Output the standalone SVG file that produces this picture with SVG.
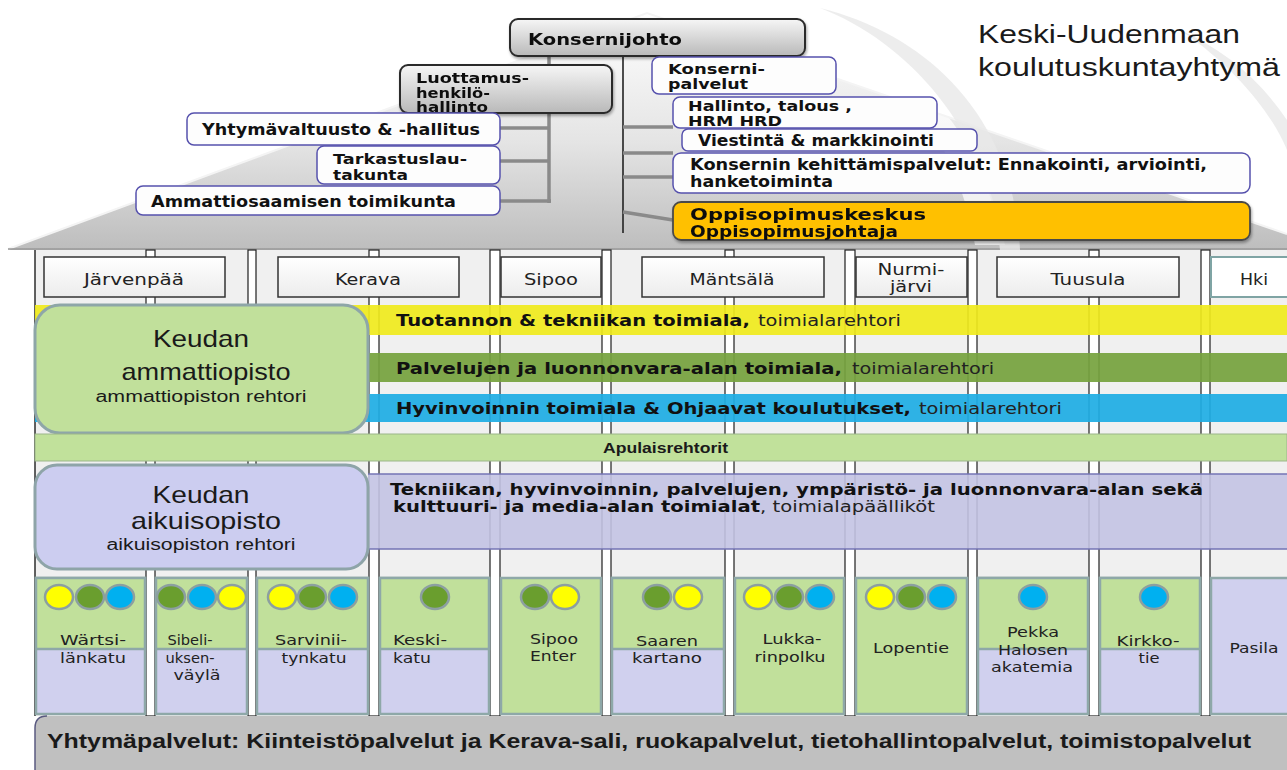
<svg xmlns="http://www.w3.org/2000/svg" width="1287" height="770" viewBox="0 0 1287 770">
<defs>
  <linearGradient id="roofG" x1="0" y1="0" x2="0" y2="1">
    <stop offset="0" stop-color="#ffffff"/>
    <stop offset="0.55" stop-color="#e4e4e4"/>
    <stop offset="1" stop-color="#bdbdbd"/>
  </linearGradient>
  <linearGradient id="grayBox" x1="0" y1="0" x2="0" y2="1">
    <stop offset="0" stop-color="#f6f6f6"/>
    <stop offset="1" stop-color="#b9b9b9"/>
  </linearGradient>
  <linearGradient id="cityG" x1="0" y1="0" x2="0" y2="1">
    <stop offset="0" stop-color="#ffffff"/>
    <stop offset="1" stop-color="#ececec"/>
  </linearGradient>
  <filter id="sh" x="-5%" y="-20%" width="110%" height="150%">
    <feGaussianBlur in="SourceAlpha" stdDeviation="1.5"/>
    <feOffset dx="1" dy="2" result="o"/>
    <feComponentTransfer><feFuncA type="linear" slope="0.35"/></feComponentTransfer>
    <feMerge><feMergeNode/><feMergeNode in="SourceGraphic"/></feMerge>
  </filter>
</defs>
<style>
  .b{font-family:"DejaVu Sans",Verdana,sans-serif;font-weight:bold;font-size:15px;fill:#111}
  .bs{font-family:"DejaVu Sans",Verdana,sans-serif;font-weight:bold;font-size:13.5px;fill:#111}
  .r{font-family:"DejaVu Sans",Verdana,sans-serif;font-size:15px;fill:#222}
  .a{font-family:"Liberation Sans",Arial,sans-serif;fill:#1a1a1a}
  .ct{font-family:"DejaVu Sans",Verdana,sans-serif;font-size:14px;fill:#222;text-anchor:middle}
  .cs{font-family:"DejaVu Sans",Verdana,sans-serif;font-size:14px;fill:#222;text-anchor:start}
  .cy{font-family:"DejaVu Sans",Verdana,sans-serif;font-size:15px;fill:#222;text-anchor:middle}
  .wbox{fill:#fdfdfd;stroke:#5651ad;stroke-width:1.5}
  .gbox{fill:url(#grayBox);stroke:#2a2a2a;stroke-width:2}
  .city{fill:url(#cityG);stroke:#333;stroke-width:1.5}
  .col{fill:#ffffff;stroke:#1e1e1e;stroke-width:1.2}
  .cg{fill:#c1e09b;stroke:#8ea8a8;stroke-width:2.5}
  .cl{fill:#d0d0ee;stroke:#8ea8a8;stroke-width:2.5}
  .dot{stroke:#8c9fa0;stroke-width:2.5}
  .y{fill:#ffff00}.g{fill:#6a9e2e}.bl{fill:#00b0f0}
  .gl{stroke:#8a8a8a;stroke-width:3.5;fill:none}
</style>

<!-- background and roof -->
<rect width="1287" height="770" fill="#ffffff"/>
<g id="roof">
  <polygon points="8,249 647,13 1287,234 1287,250 8,250" fill="url(#roofG)"/>
  <path d="M810,20 C900,60 960,150 975,245 L1005,245 C985,140 920,60 810,20 Z" fill="#ffffff" opacity="0.7"/>
  <path d="M1110,60 C1200,90 1260,150 1287,200 L1287,170 C1250,120 1190,80 1110,60 Z" fill="#ffffff" opacity="0.6"/>
  <path d="M8,249 L647,13 L1287,234" fill="none" stroke="#f4f4f4" stroke-width="2"/>
  <line x1="8" y1="249" x2="1287" y2="249" stroke="#9a9a9a" stroke-width="1.5"/>
</g>
<g id="watermark" fill="#e9e9e9" opacity="0.8">
  <path d="M820,8 C905,40 990,130 1000,250 L1020,250 C1015,120 930,35 820,8 Z"/>
  <path d="M1180,30 C1240,70 1275,120 1287,150 L1287,120 C1260,80 1225,50 1180,30 Z"/>
</g>

<!-- title -->
<g id="title">
  <text class="a" x="978" y="43" font-size="25" textLength="262" lengthAdjust="spacingAndGlyphs">Keski-Uudenmaan</text>
  <text class="a" x="978" y="76" font-size="25" textLength="302" lengthAdjust="spacingAndGlyphs">koulutuskuntayhtymä</text>
</g>

<!-- connectors -->
<g id="connectors">
  <line class="gl" x1="549" y1="56" x2="549" y2="203"/>
  <line class="gl" x1="500" y1="128" x2="549" y2="128"/>
  <line class="gl" x1="500" y1="161" x2="549" y2="161"/>
  <line class="gl" x1="500" y1="201" x2="551" y2="201"/>
  <line x1="623" y1="56" x2="623" y2="233" stroke="#222" stroke-width="1.6"/>
  <line class="gl" x1="623" y1="127" x2="673" y2="127"/>
  <line class="gl" x1="623" y1="153" x2="673" y2="153"/>
  <line class="gl" x1="623" y1="177" x2="673" y2="177"/>
  <line class="gl" x1="623" y1="212" x2="673" y2="220"/>
</g>

<!-- top nodes -->
<g id="konsernijohto" filter="url(#sh)">
  <rect class="gbox" x="510" y="19" width="295" height="37" rx="8"/>
  <text class="b" x="528" y="45" font-size="16" textLength="154" lengthAdjust="spacingAndGlyphs">Konsernijohto</text>
</g>
<g id="luottamus" filter="url(#sh)">
  <rect class="gbox" x="400" y="65" width="212" height="48" rx="8"/>
  <text class="bs" x="416" y="83" textLength="113" lengthAdjust="spacingAndGlyphs">Luottamus-</text>
  <text class="bs" x="416" y="98" textLength="74" lengthAdjust="spacingAndGlyphs">henkilö-</text>
  <text class="bs" x="416" y="112" textLength="72" lengthAdjust="spacingAndGlyphs">hallinto</text>
</g>
<g id="yhtymavaltuusto">
  <rect class="wbox" x="187" y="113" width="313" height="32" rx="7"/>
  <text class="b" x="202" y="135" textLength="278" lengthAdjust="spacingAndGlyphs">Yhtymävaltuusto &amp; -hallitus</text>
</g>
<g id="tarkastus">
  <rect class="wbox" x="317" y="146" width="183" height="38" rx="7"/>
  <text class="bs" x="333" y="164" textLength="134" lengthAdjust="spacingAndGlyphs">Tarkastuslau-</text>
  <text class="bs" x="333" y="180" textLength="75" lengthAdjust="spacingAndGlyphs">takunta</text>
</g>
<g id="ammattiosaamisen">
  <rect class="wbox" x="136" y="186" width="364" height="29" rx="7"/>
  <text class="b" x="151" y="207" textLength="305" lengthAdjust="spacingAndGlyphs">Ammattiosaamisen toimikunta</text>
</g>
<g id="konsernipalvelut">
  <rect class="wbox" x="652" y="57" width="184" height="37" rx="7"/>
  <text class="bs" x="668" y="74" textLength="97" lengthAdjust="spacingAndGlyphs">Konserni-</text>
  <text class="bs" x="668" y="89" textLength="80" lengthAdjust="spacingAndGlyphs">palvelut</text>
</g>
<g id="hallinto">
  <rect class="wbox" x="673" y="97" width="264" height="31" rx="7"/>
  <text class="bs" x="688" y="111" textLength="164" lengthAdjust="spacingAndGlyphs">Hallinto, talous ,</text>
  <text class="bs" x="688" y="126" textLength="94" lengthAdjust="spacingAndGlyphs">HRM HRD</text>
</g>
<g id="viestinta">
  <rect class="wbox" x="682" y="129" width="295" height="22" rx="6"/>
  <text class="b" x="698" y="146" textLength="236" lengthAdjust="spacingAndGlyphs">Viestintä &amp; markkinointi</text>
</g>
<g id="kehittamispalvelut">
  <rect class="wbox" x="673" y="153" width="577" height="40" rx="8"/>
  <text class="b" x="690" y="170" textLength="517" lengthAdjust="spacingAndGlyphs">Konsernin kehittämispalvelut: Ennakointi, arviointi,</text>
  <text class="b" x="690" y="187" textLength="143" lengthAdjust="spacingAndGlyphs">hanketoiminta</text>
</g>
<g id="oppisopimus" filter="url(#sh)">
  <rect x="673" y="202" width="577" height="38" rx="8" fill="#ffc000" stroke="#4a4a4a" stroke-width="1.8"/>
  <text class="b" x="690" y="220" font-size="18" textLength="236" lengthAdjust="spacingAndGlyphs">Oppisopimuskeskus</text>
  <text class="b" x="690" y="237" textLength="208" lengthAdjust="spacingAndGlyphs">Oppisopimusjohtaja</text>
</g>

<!-- building body -->
<g id="building">
  <rect x="35" y="250" width="1252" height="466" fill="#f0f0f0"/>
  <line x1="35" y1="250" x2="35" y2="716" stroke="#1e1e1e" stroke-width="1.4"/>
  <rect class="col" x="146" y="250" width="9" height="466"/>
  <rect class="col" x="248" y="250" width="8" height="466"/>
  <rect class="col" x="369" y="250" width="10" height="466"/>
  <rect class="col" x="490" y="250" width="10" height="466"/>
  <rect class="col" x="602" y="250" width="9" height="466"/>
  <rect class="col" x="725" y="250" width="9" height="466"/>
  <rect class="col" x="845" y="250" width="10" height="466"/>
  <rect class="col" x="968" y="250" width="9" height="466"/>
  <rect class="col" x="1089" y="250" width="10" height="466"/>
  <rect class="col" x="1201" y="250" width="9" height="466"/>
</g>

<!-- cities -->
<g id="jarvenpaa"><rect class="city" x="44" y="257" width="181" height="40"/><text class="cy" x="134" y="285" textLength="100" lengthAdjust="spacingAndGlyphs">Järvenpää</text></g>
<g id="kerava"><rect class="city" x="278" y="257" width="181" height="40"/><text class="cy" x="368" y="285" textLength="66" lengthAdjust="spacingAndGlyphs">Kerava</text></g>
<g id="sipoo"><rect class="city" x="501" y="257" width="100" height="40"/><text class="cy" x="551" y="285" textLength="54" lengthAdjust="spacingAndGlyphs">Sipoo</text></g>
<g id="mantsala"><rect class="city" x="642" y="257" width="182" height="40"/><text class="cy" x="732" y="285" textLength="85" lengthAdjust="spacingAndGlyphs">Mäntsälä</text></g>
<g id="nurmijarvi"><rect class="city" x="856" y="257" width="111" height="40"/><text class="cy" x="911" y="275" textLength="67" lengthAdjust="spacingAndGlyphs">Nurmi-</text><text class="cy" x="911" y="292" textLength="42" lengthAdjust="spacingAndGlyphs">järvi</text></g>
<g id="tuusula"><rect class="city" x="997" y="257" width="182" height="40"/><text class="cy" x="1088" y="285" textLength="75" lengthAdjust="spacingAndGlyphs">Tuusula</text></g>
<g id="hki"><rect x="1211" y="257" width="80" height="40" fill="#ffffff" stroke="#7fa4a4" stroke-width="2"/><text class="cy" x="1254" y="285" textLength="28" lengthAdjust="spacingAndGlyphs">Hki</text></g>

<!-- bands -->
<g id="tuotannon">
  <rect x="35" y="305" width="1252" height="30" fill="#f0ea1c" opacity="0.92"/>
  <text class="b" x="396" y="326" textLength="354" lengthAdjust="spacingAndGlyphs">Tuotannon &amp; tekniikan toimiala,</text>
  <text class="r" x="758" y="326" textLength="143" lengthAdjust="spacingAndGlyphs">toimialarehtori</text>
</g>
<g id="palvelujen">
  <rect x="35" y="353" width="1252" height="29" fill="#76a23e" opacity="0.93"/>
  <text class="b" x="396" y="374" textLength="446" lengthAdjust="spacingAndGlyphs">Palvelujen ja luonnonvara-alan toimiala,</text>
  <text class="r" x="852" y="374" textLength="142" lengthAdjust="spacingAndGlyphs">toimialarehtori</text>
</g>
<g id="hyvinvoinnin">
  <rect x="35" y="394" width="1252" height="28" fill="#1fade4" opacity="0.93"/>
  <text class="b" x="396" y="414" textLength="515" lengthAdjust="spacingAndGlyphs">Hyvinvoinnin toimiala &amp; Ohjaavat koulutukset,</text>
  <text class="r" x="919" y="414" textLength="143" lengthAdjust="spacingAndGlyphs">toimialarehtori</text>
</g>
<g id="ammattiopisto">
  <rect x="35" y="305" width="333" height="128" rx="25" fill="#c1e09b" stroke="#8ea6a8" stroke-width="3"/>
  <text class="a" x="201" y="347" font-size="24" text-anchor="middle" textLength="96" lengthAdjust="spacingAndGlyphs">Keudan</text>
  <text class="a" x="206" y="380" font-size="24" text-anchor="middle" textLength="169" lengthAdjust="spacingAndGlyphs">ammattiopisto</text>
  <text class="a" x="201" y="402" font-size="16" text-anchor="middle" textLength="211" lengthAdjust="spacingAndGlyphs">ammattiopiston rehtori</text>
</g>
<g id="apulaisrehtorit">
  <rect x="35" y="434" width="1252" height="27" fill="#c1e19b" stroke="#9bb58a" stroke-width="1"/>
  <text class="a" x="603" y="453" font-size="14" font-weight="bold" textLength="125" lengthAdjust="spacingAndGlyphs">Apulaisrehtorit</text>
</g>
<g id="aikuis-toimialat">
  <rect x="368" y="474" width="919" height="75" fill="#c3c3e3" opacity="0.9"/>
  <line x1="368" y1="474" x2="1287" y2="474" stroke="#7474b4" stroke-width="1.5"/>
  <line x1="368" y1="549" x2="1287" y2="549" stroke="#7474b4" stroke-width="1.5"/>
  <text class="b" x="390" y="495" textLength="813" lengthAdjust="spacingAndGlyphs">Tekniikan, hyvinvoinnin, palvelujen, ympäristö- ja luonnonvara-alan sekä</text>
  <text class="b" x="393" y="512" textLength="367" lengthAdjust="spacingAndGlyphs">kulttuuri- ja media-alan toimialat</text>
  <text class="r" x="760" y="512" textLength="175" lengthAdjust="spacingAndGlyphs">, toimialapäälliköt</text>
</g>
<g id="aikuisopisto">
  <rect x="35" y="465" width="333" height="104" rx="22" fill="#cccdf0" stroke="#8ea4a8" stroke-width="3"/>
  <text class="a" x="201" y="503" font-size="24" text-anchor="middle" textLength="97" lengthAdjust="spacingAndGlyphs">Keudan</text>
  <text class="a" x="206" y="529" font-size="24" text-anchor="middle" textLength="150" lengthAdjust="spacingAndGlyphs">aikuisopisto</text>
  <text class="a" x="201" y="550" font-size="16" text-anchor="middle" textLength="189" lengthAdjust="spacingAndGlyphs">aikuisopiston rehtori</text>
</g>

<!-- campus cards -->
<g id="wartsilankatu">
  <rect class="cl" x="36" y="578" width="109" height="136"/><rect class="cg" x="36" y="578" width="109" height="71"/>
  <ellipse class="dot y" cx="59" cy="597" rx="14" ry="12"/><ellipse class="dot g" cx="90" cy="597" rx="14" ry="12"/><ellipse class="dot bl" cx="120" cy="597" rx="14" ry="12"/>
  <text class="ct" x="93" y="645" textLength="66" lengthAdjust="spacingAndGlyphs">Wärtsi-</text>
  <text class="ct" x="93" y="663" textLength="66" lengthAdjust="spacingAndGlyphs">länkatu</text>
</g>
<g id="sibeliuksenvayla">
  <rect class="cl" x="156" y="578" width="91" height="136"/><rect class="cg" x="156" y="578" width="91" height="71"/>
  <ellipse class="dot g" cx="171" cy="597" rx="14" ry="12"/><ellipse class="dot bl" cx="202" cy="597" rx="14" ry="12"/><ellipse class="dot y" cx="232" cy="597" rx="14" ry="12"/>
  <text class="ct" x="190" y="645" textLength="45" lengthAdjust="spacingAndGlyphs">Sibeli-</text>
  <text class="ct" x="190" y="663" textLength="49" lengthAdjust="spacingAndGlyphs">uksen-</text>
  <text class="ct" x="197" y="680" textLength="47" lengthAdjust="spacingAndGlyphs">väylä</text>
</g>
<g id="sarviniitynkatu">
  <rect class="cl" x="257" y="578" width="111" height="136"/><rect class="cg" x="257" y="578" width="111" height="71"/>
  <ellipse class="dot y" cx="282" cy="597" rx="14" ry="12"/><ellipse class="dot g" cx="312" cy="597" rx="14" ry="12"/><ellipse class="dot bl" cx="343" cy="597" rx="14" ry="12"/>
  <text class="ct" x="311" y="645" textLength="72" lengthAdjust="spacingAndGlyphs">Sarvinii-</text>
  <text class="ct" x="314" y="663" textLength="65" lengthAdjust="spacingAndGlyphs">tynkatu</text>
</g>
<g id="keskikatu">
  <rect class="cl" x="380" y="578" width="109" height="136"/><rect class="cg" x="380" y="578" width="109" height="71"/>
  <ellipse class="dot g" cx="435" cy="597" rx="14" ry="12"/>
  <text class="cs" x="393" y="645" textLength="54" lengthAdjust="spacingAndGlyphs">Keski-</text>
  <text class="cs" x="393" y="663" textLength="38" lengthAdjust="spacingAndGlyphs">katu</text>
</g>
<g id="sipoo-enter">
  <rect class="cg" x="501" y="578" width="100" height="136"/>
  <ellipse class="dot g" cx="535" cy="597" rx="14" ry="12"/><ellipse class="dot y" cx="565" cy="597" rx="14" ry="12"/>
  <text class="ct" x="554" y="644" textLength="48" lengthAdjust="spacingAndGlyphs">Sipoo</text>
  <text class="ct" x="553" y="661" textLength="46" lengthAdjust="spacingAndGlyphs">Enter</text>
</g>
<g id="saaren-kartano">
  <rect class="cl" x="612" y="578" width="112" height="136"/><rect class="cg" x="612" y="578" width="112" height="71"/>
  <ellipse class="dot g" cx="657" cy="597" rx="14" ry="12"/><ellipse class="dot y" cx="688" cy="597" rx="14" ry="12"/>
  <text class="ct" x="667" y="646" textLength="62" lengthAdjust="spacingAndGlyphs">Saaren</text>
  <text class="ct" x="667" y="663" textLength="70" lengthAdjust="spacingAndGlyphs">kartano</text>
</g>
<g id="lukkarinpolku">
  <rect class="cg" x="735" y="578" width="109" height="136"/>
  <ellipse class="dot y" cx="758" cy="597" rx="14" ry="12"/><ellipse class="dot g" cx="789" cy="597" rx="14" ry="12"/><ellipse class="dot bl" cx="820" cy="597" rx="14" ry="12"/>
  <text class="ct" x="792" y="644" textLength="59" lengthAdjust="spacingAndGlyphs">Lukka-</text>
  <text class="ct" x="790" y="662" textLength="71" lengthAdjust="spacingAndGlyphs">rinpolku</text>
</g>
<g id="lopentie">
  <rect class="cg" x="856" y="578" width="111" height="136"/>
  <ellipse class="dot y" cx="880" cy="597" rx="14" ry="12"/><ellipse class="dot g" cx="911" cy="597" rx="14" ry="12"/><ellipse class="dot bl" cx="942" cy="597" rx="14" ry="12"/>
  <text class="ct" x="911" y="653" textLength="76" lengthAdjust="spacingAndGlyphs">Lopentie</text>
</g>
<g id="pekka-halosen-akatemia">
  <rect class="cl" x="978" y="578" width="110" height="136"/><rect class="cg" x="978" y="578" width="110" height="71"/>
  <ellipse class="dot bl" cx="1033" cy="597" rx="14" ry="12"/>
  <text class="ct" x="1033" y="637" textLength="52" lengthAdjust="spacingAndGlyphs">Pekka</text>
  <text class="ct" x="1033" y="655" textLength="70" lengthAdjust="spacingAndGlyphs">Halosen</text>
  <text class="ct" x="1032" y="672" textLength="82" lengthAdjust="spacingAndGlyphs">akatemia</text>
</g>
<g id="kirkkotie">
  <rect class="cl" x="1100" y="578" width="100" height="136"/><rect class="cg" x="1100" y="578" width="100" height="71"/>
  <ellipse class="dot bl" cx="1154" cy="597" rx="14" ry="12"/>
  <text class="ct" x="1148" y="646" textLength="63" lengthAdjust="spacingAndGlyphs">Kirkko-</text>
  <text class="ct" x="1149" y="663" textLength="21" lengthAdjust="spacingAndGlyphs">tie</text>
</g>
<g id="pasila">
  <rect class="cl" x="1211" y="578" width="80" height="136"/>
  <text class="ct" x="1254" y="653" textLength="49" lengthAdjust="spacingAndGlyphs">Pasila</text>
</g>

<!-- services bar -->
<g id="yhtymapalvelut">
  <path d="M35,728 Q35,716 47,716 H1287 V770 H35 Z" fill="#c0c0c0"/>
  <path d="M35,770 V728 Q35,716 47,716" fill="none" stroke="#5a5a80" stroke-width="1.5"/>
  <text class="a" x="47" y="748" font-size="20" font-weight="bold" textLength="1204" lengthAdjust="spacingAndGlyphs">Yhtymäpalvelut: Kiinteistöpalvelut ja Kerava-sali, ruokapalvelut, tietohallintopalvelut, toimistopalvelut</text>
</g>
</svg>
